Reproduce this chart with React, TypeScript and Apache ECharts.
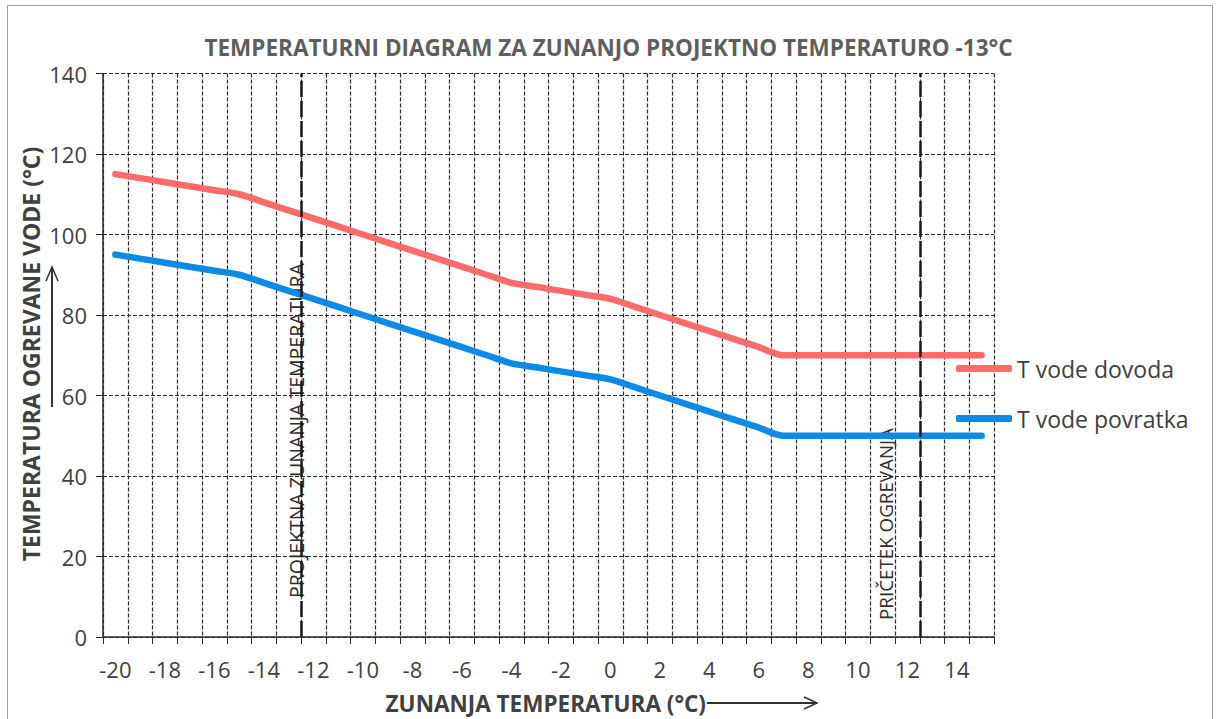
import React, { useEffect, useRef } from "react";
import * as echarts from "echarts";

const categories = [
  "-20", "-19", "-18", "-17", "-16", "-15", "-14", "-13", "-12", "-11", "-10", "-9",
  "-8", "-7", "-6", "-5", "-4", "-3", "-2", "-1", "0", "1", "2", "3",
  "4", "5", "6", "7", "8", "9", "10", "11", "12", "13", "14", "15",
];

const supplyTemp = [
  115, 114, 113, 112, 111, 110, 108, 106, 104, 102, 100, 98,
  96, 94, 92, 90, 88, 87, 86, 85, 84, 82, 80, 78,
  76, 74, 72, 70, 70, 70, 70, 70, 70, 70, 70, 70,
];

const returnTemp = [
  95, 94, 93, 92, 91, 90, 88, 86, 84, 82, 80, 78,
  76, 74, 72, 70, 68, 67, 66, 65, 64, 62, 60, 58,
  56, 54, 52, 50, 50, 50, 50, 50, 50, 50, 50, 50,
];

const seriesNames = ["T vode dovoda", "T vode povratka"];
const referenceLines = [-12.5, 12.5];

const FONT = "'Open Sans', 'Liberation Sans', sans-serif";
const TEXT = "#404040";

export default function App() {
  const ref = useRef<HTMLDivElement>(null);

  useEffect(() => {
    document.body.style.margin = "0";
    const chart = echarts.init(ref.current!, null, { renderer: "svg" });
    const option: any = {
      animation: false,
      backgroundColor: "#ffffff",
      title: {
        text: "TEMPERATURNI DIAGRAM ZA ZUNANJO PROJEKTNO TEMPERATURO -13°C",
        left: "center",
        top: 31,
        textStyle: { fontFamily: FONT, fontSize: 22.5, fontWeight: "bold", color: "#5e5e5e" },
      },
      legend: {
        orient: "vertical",
        left: 951,
        top: 352,
        itemWidth: 56,
        itemHeight: 7,
        itemGap: 27,
        icon: "roundRect",
        data: seriesNames,
        textStyle: { fontFamily: FONT, fontSize: 23, color: TEXT },
      },
      grid: { left: 103, right: 223, top: 73.5, bottom: 82, containLabel: false },
      xAxis: [
        {
          type: "category",
          data: categories,
          boundaryGap: true,
          axisLine: { lineStyle: { color: "#2a2a2a", width: 1.5 } },
          axisTick: { show: true, interval: 0, length: 7, lineStyle: { color: "#2a2a2a" } },
          axisLabel: { interval: 1, fontFamily: FONT, fontSize: 22, color: TEXT, margin: 21 },
          splitLine: {
            show: true,
            interval: 0,
            lineStyle: { color: "#2a2a2a", type: [4, 2], width: 1.2 },
          },
        },
        {
          type: "value",
          min: -20.5,
          max: 15.5,
          show: false,
        },
      ],
      yAxis: {
        type: "value",
        min: 0,
        max: 140,
        interval: 20,
        axisLine: { show: true, onZero: false, lineStyle: { color: "#2a2a2a", width: 1.5 } },
        axisTick: { show: true, length: 7, lineStyle: { color: "#2a2a2a" } },
        axisLabel: { fontFamily: FONT, fontSize: 22, color: TEXT, margin: 16 },
        splitLine: { show: true, lineStyle: { color: "#2a2a2a", type: [4, 2], width: 1.2 } },
      },
      series: [
        {
          name: seriesNames[0],
          type: "line",
          data: supplyTemp,
          smooth: 0.3,
          showSymbol: false,
          color: "#ff6b68",
          lineStyle: { width: 6.5, color: "#ff6b68", cap: "round" },
        },
        {
          name: seriesNames[1],
          type: "line",
          data: returnTemp,
          smooth: 0.3,
          showSymbol: false,
          color: "#0b8ae8",
          lineStyle: { width: 6.5, color: "#0b8ae8", cap: "round" },
        },
        {
          name: "ref",
          type: "line",
          xAxisIndex: 1,
          data: [],
          markLine: {
            silent: true,
            symbol: "none",
            label: { show: false },
            lineStyle: { color: "#1a1a1a", width: 2.5, type: [16, 4] },
            data: referenceLines.map((v) => ({ xAxis: v })),
          },
        },
      ],
      graphic: [
        {
          type: "rect",
          shape: { x: 7.5, y: 5.5, width: 1205, height: 720 },
          style: { fill: "none", stroke: "#a0a0a0", lineWidth: 1 },
          silent: true,
        },
        {
          type: "text",
          x: 31,
          y: 354,
          rotation: Math.PI / 2,
          style: {
            text: "TEMPERATURA OGREVANE VODE (°C)",
            fontFamily: FONT,
            fontSize: 23,
            fontWeight: "bold",
            fill: TEXT,
            align: "center",
            verticalAlign: "middle",
          },
        },
        {
          type: "polyline",
          shape: { points: [[52, 407], [52, 267]] },
          style: { stroke: "#333", lineWidth: 2, fill: "none" },
        },
        {
          type: "polyline",
          shape: { points: [[46, 281], [52, 267], [58, 281]] },
          style: { stroke: "#333", lineWidth: 1.5, fill: "none" },
        },
        {
          type: "text",
          x: 706,
          y: 703,
          style: {
            text: "ZUNANJA TEMPERATURA (°C)",
            fontFamily: FONT,
            fontSize: 22.5,
            fontWeight: "bold",
            fill: TEXT,
            align: "right",
            verticalAlign: "middle",
          },
        },
        {
          type: "polyline",
          shape: { points: [[707, 703], [817, 703]] },
          style: { stroke: "#333", lineWidth: 2, fill: "none" },
        },
        {
          type: "polyline",
          shape: { points: [[804, 697], [817, 703], [804, 709]] },
          style: { stroke: "#333", lineWidth: 1.5, fill: "none" },
        },
        {
          type: "text",
          x: 296,
          y: 598,
          rotation: Math.PI / 2,
          style: {
            text: "PROJEKTNA ZUNANJA TEMPERATURA",
            fontFamily: FONT,
            fontSize: 19.5,
            fill: "#2e2e2e",
            align: "left",
            verticalAlign: "middle",
          },
        },
        {
          type: "text",
          x: 886,
          y: 620,
          rotation: Math.PI / 2,
          style: {
            text: "PRIČETEK OGREVANJA",
            fontFamily: FONT,
            fontSize: 18.8,
            fill: "#2e2e2e",
            align: "left",
            verticalAlign: "middle",
          },
        },
      ],
    };
    chart.setOption(option);
    return () => chart.dispose();
  }, []);

  return <div ref={ref} style={{ width: 1217, height: 719 }} />;
}
